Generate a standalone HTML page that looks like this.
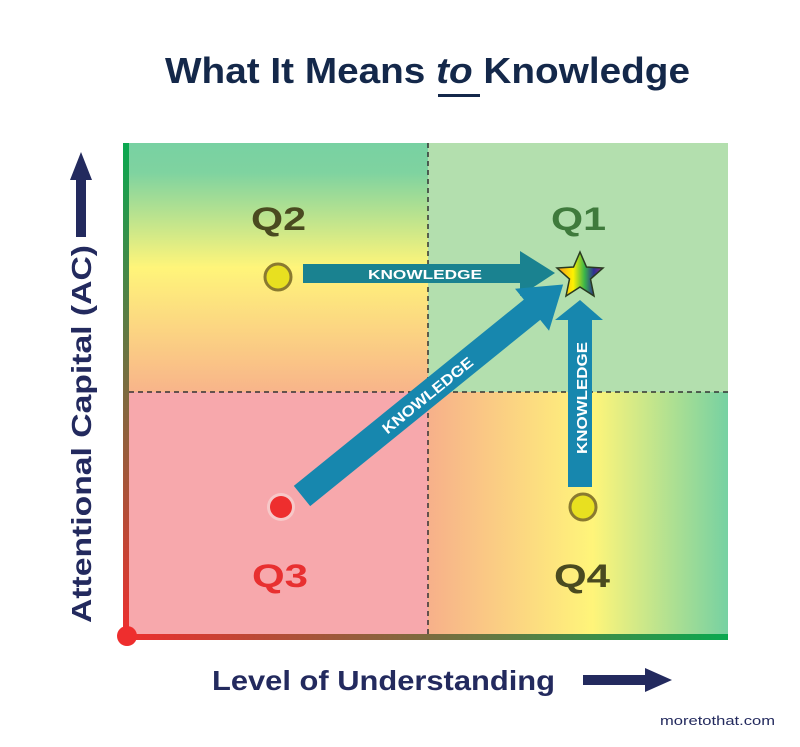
<!DOCTYPE html>
<html><head><style>
body{margin:0;background:#fff;width:800px;height:742px;overflow:hidden;font-family:"Liberation Sans",sans-serif}
</style></head><body>
<svg width="800" height="742" viewBox="0 0 800 742" xmlns="http://www.w3.org/2000/svg">
<defs>
<linearGradient id="q2" x1="0" y1="0" x2="0" y2="1">
<stop offset="0" stop-color="#78d1a2"/><stop offset="0.12" stop-color="#7fd3a0"/><stop offset="0.5" stop-color="#fff57a"/><stop offset="1" stop-color="#f8b48a"/></linearGradient>
<linearGradient id="q4" x1="0" y1="0" x2="1" y2="0">
<stop offset="0" stop-color="#f7b08a"/><stop offset="0.55" stop-color="#fff57a"/><stop offset="1" stop-color="#76d1a2"/></linearGradient>
<linearGradient id="vax" x1="0" y1="0" x2="0" y2="1"><stop offset="0" stop-color="#0aa850"/><stop offset="1" stop-color="#ee2e2e"/></linearGradient>
<linearGradient id="hax" x1="0" y1="0" x2="1" y2="0"><stop offset="0" stop-color="#ee2e2e"/><stop offset="1" stop-color="#0aa850"/></linearGradient>
<linearGradient id="star" x1="0" y1="0" x2="1" y2="0"><stop offset="0" stop-color="#f7941d"/><stop offset="0.35" stop-color="#fff200"/><stop offset="0.6" stop-color="#39b54a"/><stop offset="0.8" stop-color="#2e3192"/><stop offset="1" stop-color="#92278f"/></linearGradient>
</defs>
<text x="165" y="83" textLength="525" lengthAdjust="spacingAndGlyphs" font-size="36" font-weight="bold" fill="#14284a">What It Means <tspan font-style="italic">to</tspan> Knowledge</text>
<rect x="438" y="94" width="42" height="3" fill="#14284a"/>
<rect x="129" y="143" width="299" height="249" fill="url(#q2)"/>
<rect x="428" y="143" width="300" height="249" fill="#b3dfae"/>
<rect x="129" y="392" width="299" height="243" fill="#f7a8ac"/>
<rect x="428" y="392" width="300" height="243" fill="url(#q4)"/>
<line x1="428" y1="143" x2="428" y2="635" stroke="#333" stroke-width="1.5" stroke-dasharray="5,4"/>
<line x1="129" y1="392" x2="728" y2="392" stroke="#333" stroke-width="1.5" stroke-dasharray="5,4"/>
<rect x="123" y="143" width="6" height="495" fill="url(#vax)"/>
<rect x="123" y="634" width="605" height="6" fill="url(#hax)"/>
<circle cx="127" cy="636" r="10" fill="#ee2e2e"/>
<g font-size="32" font-weight="bold">
<text x="251" y="230" textLength="55" lengthAdjust="spacingAndGlyphs" fill="#4a4a20">Q2</text>
<text x="551" y="230" textLength="55" lengthAdjust="spacingAndGlyphs" fill="#3f7a3c">Q1</text>
<text x="252" y="587" textLength="56" lengthAdjust="spacingAndGlyphs" fill="#e83030">Q3</text>
<text x="554" y="587" textLength="56" lengthAdjust="spacingAndGlyphs" fill="#4a4a20">Q4</text>
</g>
<polygon points="303,264 520,264 520,251 555,273 520,296 520,283 303,283" fill="#1a8290"/>
<text x="368" y="279" textLength="114" lengthAdjust="spacingAndGlyphs" font-size="13" font-weight="bold" fill="#fff">KNOWLEDGE</text>
<g transform="translate(302,496) rotate(-39)">
<polygon points="0,-13 296,-13 296,-27 336,0 296,27 296,13 0,13" fill="#1787ae"/>
<text x="105" y="6" textLength="112" lengthAdjust="spacingAndGlyphs" font-size="15" font-weight="bold" fill="#fff">KNOWLEDGE</text>
</g>
<polygon points="568,487 568,320 555,320 580,300 603,320 592,320 592,487" fill="#1787ae"/>
<text transform="translate(587,454) rotate(-90)" textLength="112" lengthAdjust="spacingAndGlyphs" font-size="15" font-weight="bold" fill="#fff">KNOWLEDGE</text>
<polygon points="580,252 586.5,267 603,268 590.5,279 594,296 580,287 566,296 569.5,279 557,268 573.5,267" fill="url(#star)" stroke="#2a3a20" stroke-width="1.5"/>
<circle cx="278" cy="277" r="13" fill="#e8e020" stroke="#8a7a30" stroke-width="3"/>
<circle cx="583" cy="507" r="13" fill="#e8e020" stroke="#8a7a30" stroke-width="3"/>
<circle cx="281" cy="507" r="14" fill="#f7c8c8"/>
<circle cx="281" cy="507" r="11" fill="#ee2e2e"/>
<polygon points="70,180 81,152 92,180 86,180 86,237 76,237 76,180" fill="#232a5e"/>
<text transform="translate(91,623) rotate(-90)" textLength="378" lengthAdjust="spacingAndGlyphs" font-size="28" font-weight="bold" fill="#232a5e">Attentional Capital (AC)</text>
<text x="212" y="690" textLength="343" lengthAdjust="spacingAndGlyphs" font-size="28" font-weight="bold" fill="#232a5e">Level of Understanding</text>
<polygon points="583,675 645,675 645,668 672,680 645,692 645,685 583,685" fill="#232a5e"/>
<text x="660" y="725" textLength="115" lengthAdjust="spacingAndGlyphs" font-size="13" fill="#232a5e">moretothat.com</text>
</svg>
</body></html>
